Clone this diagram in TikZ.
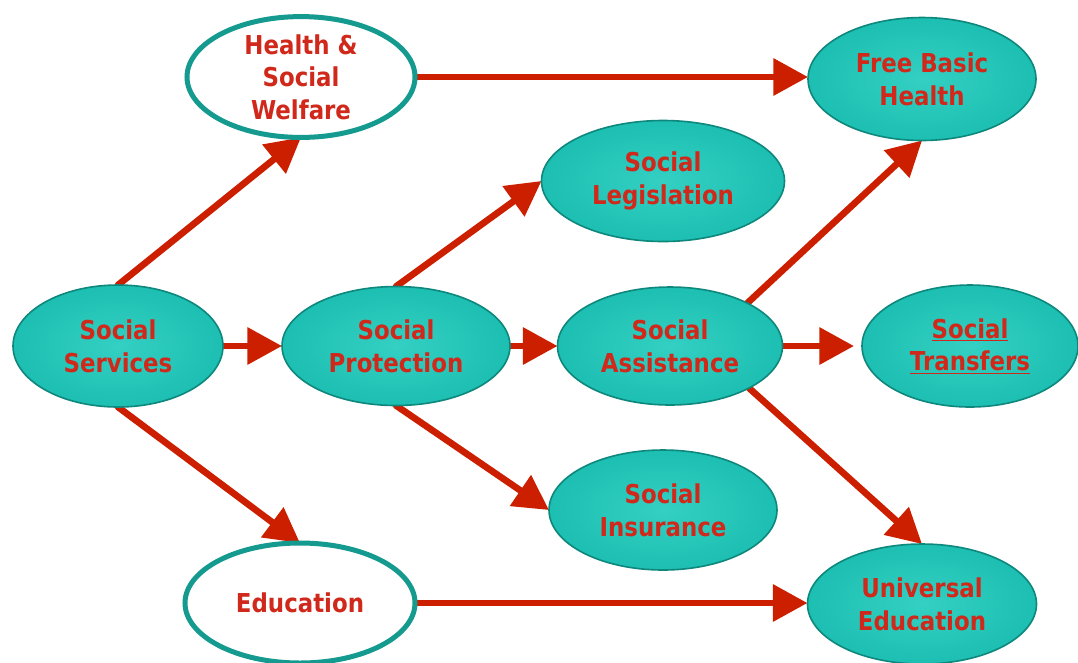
\documentclass[tikz,border=0pt]{standalone}
\usepackage{fontspec}
\setmainfont{DejaVu Sans}[FakeStretch=0.88]
\usetikzlibrary{shapes.geometric,arrows.meta,backgrounds}
\definecolor{tealfill}{HTML}{1DBFB2}
\definecolor{teallight}{HTML}{33D0C3}
\definecolor{tealdark}{HTML}{0E877C}
\definecolor{tealring}{HTML}{149A8E}
\definecolor{arrowred}{HTML}{CC1F00}
\definecolor{textred}{HTML}{D0281A}
\begin{document}
\begin{tikzpicture}[x=0.75pt,y=-0.75pt,
  every node/.style={font=\bfseries\fontsize{19.5pt}{24.5pt}\selectfont,
    text=textred, align=center, inner sep=0pt, outer sep=0pt},
  tealnode/.style={ellipse, inner color=teallight, outer color=tealfill,
    draw=tealdark, line width=1.2pt},
  ringnode/.style={ellipse, fill=white, draw=tealring, line width=3.75pt},
  conn/.style={draw=arrowred, line width=5pt, line cap=round,
    -{Triangle[length=26pt,width=27pt]}}]
\useasboundingbox (0,0) rectangle (1078,662);
\node[tealnode, minimum width=157.5pt, minimum height=91.5pt] (ss) at (118,346) {Social\\Services};
\node[ringnode, minimum width=171pt, minimum height=90pt] (hw) at (301,77) {Health \&\\Social\\Welfare};
\node[ringnode, minimum width=172.5pt, minimum height=90pt] (ed) at (300,603) {Education};
\node[tealnode, minimum width=171pt, minimum height=89.25pt] (sp) at (396,346) {Social\\Protection};
\node[tealnode, minimum width=182.25pt, minimum height=90.75pt] (sl) at (663,181) {Social\\Legislation};
\node[tealnode, minimum width=168.75pt, minimum height=88.5pt] (sa) at (670,346) {Social\\Assistance};
\node[tealnode, minimum width=171pt, minimum height=90pt] (si) at (663,510) {Social\\Insurance};
\node[tealnode, minimum width=171pt, minimum height=92.25pt] (fb) at (922,79) {Free Basic\\Health};
\node[tealnode, minimum width=162pt, minimum height=91.5pt] (st) at (970,346) {\underline{Social}\\\underline{Transfers}};
\node[tealnode, minimum width=171.75pt, minimum height=90pt] (ue) at (922,604) {Universal\\Education};
\begin{scope}[on background layer]
\draw[conn] (ss.north) -- (hw.south);
\draw[conn] (ss.east) -- (sp.west);
\draw[conn] (ss.south) -- (ed.north);
\draw[conn] (hw.east) -- (hw.east -| fb.west);
\draw[conn] (sp.north) -- (sl.west);
\draw[conn] (sp.east) -- (sa.west);
\draw[conn] (sp.south) -- (si.west);
\draw[conn] (sa.29) -- (fb.south);
\draw[conn, shorten >=6pt] (sa.east) -- (st.west);
\draw[conn] (sa.-28) -- (ue.north);
\draw[conn] (ed.east) -- (ed.east -| ue.west);
\end{scope}
\end{tikzpicture}
\end{document}
